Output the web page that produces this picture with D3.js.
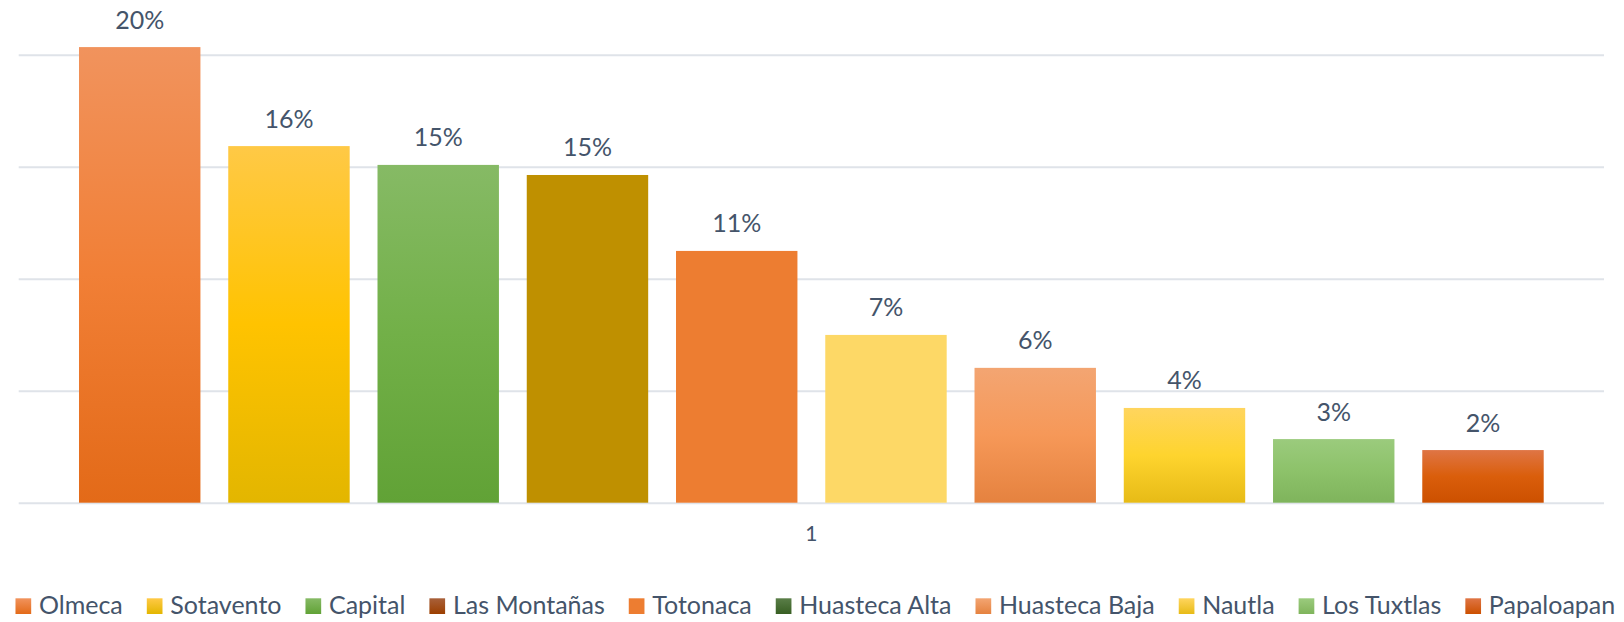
<!DOCTYPE html>
<html>
  <head>
    <meta charset="utf-8">
    <title>Regiones</title>
    <script src="https://cdn.jsdelivr.net/npm/d3@7"></script>
    <style>
      html, body { margin: 0; padding: 0; background: #ffffff; overflow: hidden; }
      svg { display: block; }
      text { font-family: Lato, "Open Sans", sans-serif; fill: #44546A; }
    </style>
  </head>
  <body>
    <svg width="1624" height="622" id="mainsvg"></svg>
    <script>
        // @数据
        const regions = ["Olmeca", "Sotavento", "Capital", "Las Montañas", "Totonaca",
            "Huasteca Alta", "Huasteca Baja", "Nautla", "Los Tuxtlas", "Papaloapan"];
        const shares = [0.2034, 0.1592, 0.1508, 0.1463, 0.1124, 0.0749, 0.0602, 0.0423, 0.0284, 0.0235];
        const categoryLabel = "1";
        const yTicks = [0, 0.05, 0.10, 0.15, 0.20];

        // bar fills (top, middle, bottom) -- bars 4 and 6 don't follow the legend in the original
        const barFills = [
            ["#F1935D", "#F17F36", "#E36A18"],
            ["#FFC946", "#FFC300", "#E3B600"],
            ["#86BA65", "#72B048", "#61A236"],
            ["#BF9000", "#BF9000", "#BF9000"],
            ["#ED7D31", "#ED7D31", "#ED7D31"],
            ["#FDD866", "#FDD866", "#FDD866"],
            ["#F3A572", "#F69858", "#E5823F"],
            ["#FFD55E", "#FED42E", "#E7BB16"],
            ["#9BCB7D", "#8DC26A", "#7FB45C"],
            ["#DF7545", "#DA5E0B", "#CC5000"]
        ];
        const legendFills = [
            ["#F1935D", "#E36A18"],
            ["#FFC946", "#E3B600"],
            ["#86BA65", "#61A236"],
            ["#A8603A", "#9C3F00"],
            ["#ED7D31", "#ED7D31"],
            ["#5A7E48", "#385F23"],
            ["#F3A572", "#E5823F"],
            ["#FFD55E", "#E7BB16"],
            ["#9BCB7D", "#7FB45C"],
            ["#DF7545", "#CC5000"]
        ];

        // @画布
        const svg = d3.select('#mainsvg');
        const width = +svg.attr('width');
        const height = +svg.attr('height');
        const margin = {top: 54.7, right: 20, bottom: 119.3, left: 18.7};
        const innerWidth = width - margin.left - margin.right;
        const innerHeight = height - margin.top - margin.bottom;

        const g = svg.append('g')
            .attr('transform', `translate(${margin.left}, ${margin.top})`)
            .attr('id', 'maingroup');

        const x = d3.scaleBand()
            .domain(regions)
            .range([0, innerWidth])
            .paddingInner(0.1864)
            .paddingOuter(0.404);
        const y = d3.scaleLinear()
            .domain([0, 0.2])
            .range([innerHeight, 0]);

        // gradients
        const defs = svg.append('defs');
        barFills.forEach((c, i) => {
            const lg = defs.append('linearGradient')
                .attr('id', 'bar' + i)
                .attr('x1', 0).attr('y1', 0).attr('x2', 0).attr('y2', 1);
            lg.append('stop').attr('offset', '0%').attr('stop-color', c[0]);
            lg.append('stop').attr('offset', '50%').attr('stop-color', c[1]);
            lg.append('stop').attr('offset', '100%').attr('stop-color', c[2]);
        });
        legendFills.forEach((c, i) => {
            const lg = defs.append('linearGradient')
                .attr('id', 'leg' + i)
                .attr('x1', 0).attr('y1', 0).attr('x2', 0).attr('y2', 1);
            lg.append('stop').attr('offset', '0%').attr('stop-color', c[0]);
            lg.append('stop').attr('offset', '100%').attr('stop-color', c[1]);
        });

        // gridlines
        const yAxis = d3.axisLeft(y).tickValues(yTicks).tickSize(-innerWidth).tickFormat('');
        g.append('g').attr('class', 'grid').call(yAxis)
            .call(s => s.select('.domain').remove())
            .selectAll('line')
            .attr('stroke', '#DFE3E9')
            .attr('stroke-width', 2);

        // bars
        const data = regions.map((r, i) => ({region: r, value: shares[i], idx: i}));
        g.selectAll('.bar').data(data).enter().append('rect')
            .attr('class', 'bar')
            .attr('x', d => x(d.region))
            .attr('y', d => y(d.value))
            .attr('width', x.bandwidth())
            .attr('height', d => innerHeight - y(d.value))
            .attr('fill', d => `url(#bar${d.idx})`);

        // data labels (centred by hand)
        g.selectAll('.label').data(data).enter().append('text')
            .attr('class', 'label')
            .attr('y', d => y(d.value) - 18.5)
            .style('font-size', '25px')
            .text(d => d3.format('.0%')(d.value))
            .attr('x', function(d) {
                return x(d.region) + x.bandwidth() / 2 - this.getComputedTextLength() / 2;
            });

        // category label
        g.append('text')
            .attr('y', innerHeight + 38)
            .style('font-size', '21px')
            .text(categoryLabel)
            .attr('x', function() { return innerWidth / 2 - this.getComputedTextLength() / 2; });

        // legend
        const legend = svg.append('g').attr('class', 'legend');
        const items = legend.selectAll('.item').data(data).enter().append('g').attr('class', 'item');
        items.append('rect')
            .attr('x', 0).attr('y', -15.7)
            .attr('width', 15.7).attr('height', 15.7)
            .attr('fill', d => `url(#leg${d.idx})`);
        items.append('text')
            .attr('x', 23.5).attr('y', 0)
            .style('font-size', '25px')
            .text(d => d.region);
        let cursor = 0;
        items.each(function() {
            const w = d3.select(this).select('text').node().getComputedTextLength();
            d3.select(this).attr('transform', `translate(${cursor}, 0)`);
            cursor += 23.5 + w + 24;
        });
        const total = cursor - 24;
        legend.attr('transform', `translate(${(margin.left + innerWidth / 2) + 4 - total / 2}, 614)`);
    </script>
  </body>
</html>
